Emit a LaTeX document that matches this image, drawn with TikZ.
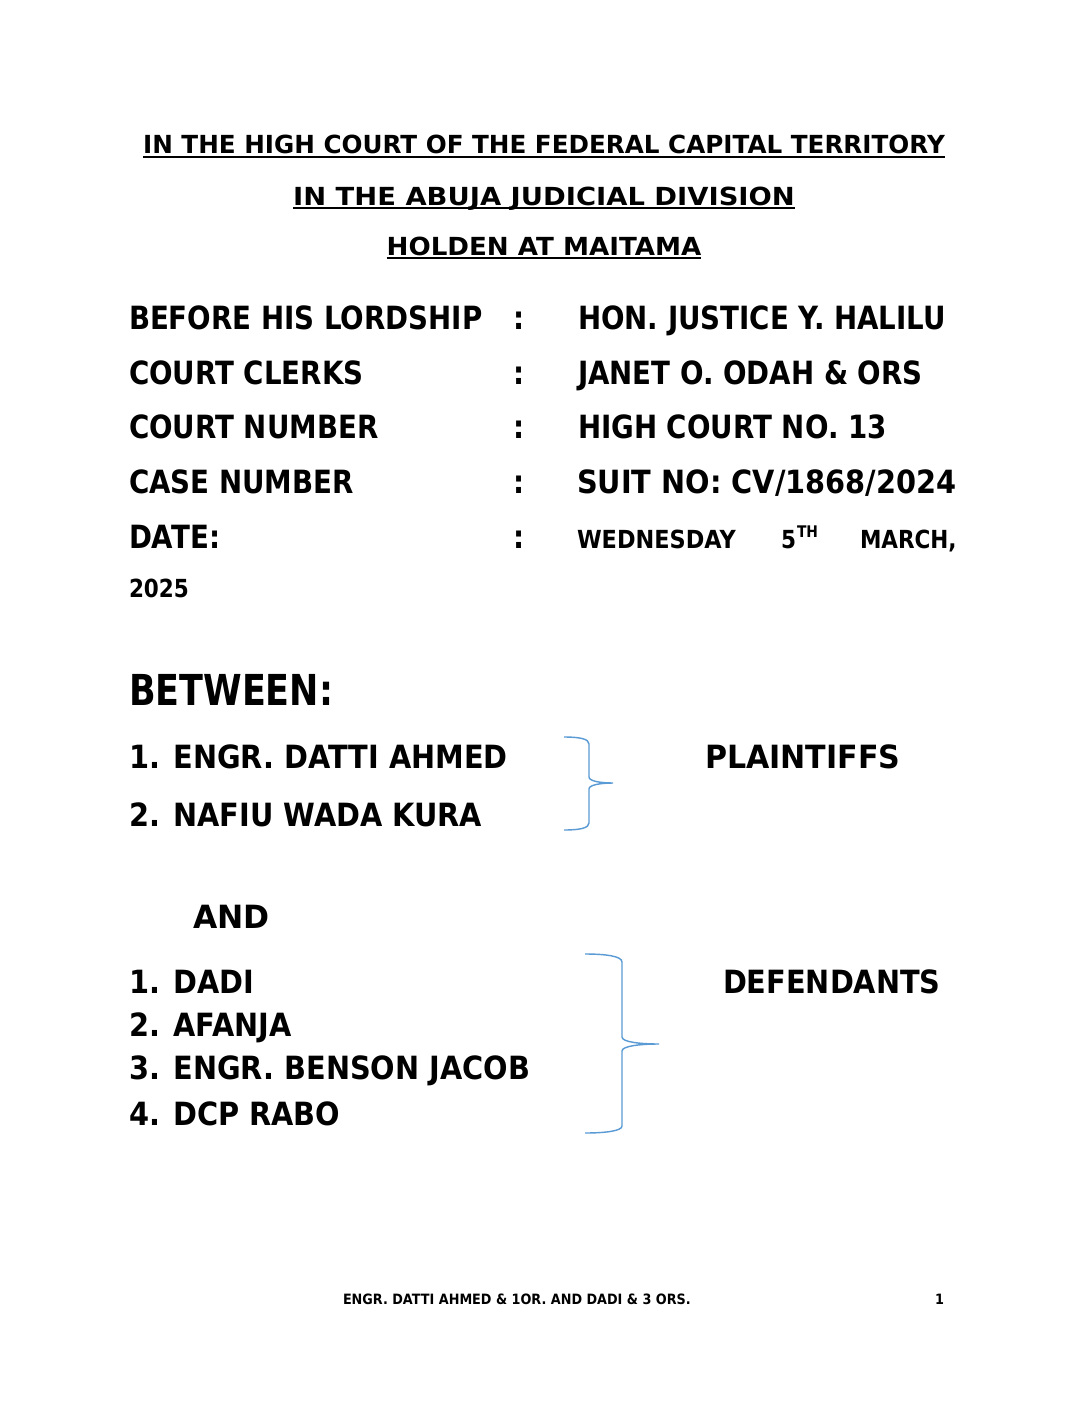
\documentclass[tikz,border=0pt]{standalone}
\usepackage{fontspec}
\newfontfamily\tb[FakeStretch=0.865]{DejaVu Sans Bold}
\newfontfamily\tbT[FakeStretch=0.99]{DejaVu Sans Bold}
\newfontfamily\tbU[FakeStretch=1.10]{DejaVu Sans Bold}
\newfontfamily\tbV[FakeStretch=1.05]{DejaVu Sans Bold}
\newfontfamily\tbP[FakeStretch=0.90]{DejaVu Sans Bold}
\newfontfamily\tbQ[FakeStretch=0.94]{DejaVu Sans Bold}
\newfontfamily\tbR[FakeStretch=0.98]{DejaVu Sans Bold}
\newfontfamily\tbB[FakeStretch=0.82]{DejaVu Sans Bold}
\definecolor{bracecol}{HTML}{5B9BD5}
\begin{document}
\begin{tikzpicture}[x=0.5625pt,y=-0.5625pt,
  txt/.style={inner sep=0pt,outer sep=0pt,anchor=base west},
  ttl/.style={inner sep=0pt,outer sep=0pt,anchor=base,font={\tbT\fontsize{14}{16}\selectfont}},
  body/.style={txt,font={\tb\fontsize{18}{21}\selectfont}},
  party/.style={txt,font={\tbP\fontsize{18}{21}\selectfont}},
  small/.style={txt,font={\tb\fontsize{14}{16}\selectfont}},
  sup/.style={txt,font={\tb\fontsize{9}{10}\selectfont}},
  big/.style={txt,font={\tbB\fontsize{24}{28}\selectfont}},
  foot/.style={txt,font={\tbP\fontsize{8}{9}\selectfont}},
  uline/.style={line width=1.1pt},
  bracestyle/.style={draw=bracecol,line width=0.8pt}]
\useasboundingbox[fill=white] (0,0) rectangle (1088,1408);
% titles
\node[ttl] (t1) at (544,154) {IN THE HIGH COURT OF THE FEDERAL CAPITAL TERRITORY};
\node[ttl,font={\tbU\fontsize{14}{16}\selectfont}] (t2) at (544,205) {IN THE ABUJA JUDICIAL DIVISION};
\node[ttl,font={\tbV\fontsize{14}{16}\selectfont}] (t3) at (544,255) {HOLDEN AT MAITAMA};
\foreach \n in {t1,t2,t3}
  \draw[uline] ([yshift=-1.8pt]\n.base west) -- ([yshift=-1.8pt]\n.base east);
% table
\node[body] (l1) at (129,329) {BEFORE HIS LORDSHIP};
\node[body] (l2) at (129,384) {COURT CLERKS};
\node[body] (l3) at (129,438) {COURT NUMBER};
\node[body] (l4) at (129,493) {CASE NUMBER};
\node[body] (l5) at (129,548) {DATE:};
\node[body] (c1) at (513,329) {:};
\node[body] (c2) at (513,384) {:};
\node[body] (c3) at (513,438) {:};
\node[body] (c4) at (513,493) {:};
\node[body] (c5) at (513,548) {:};
\node[body] (r1) at (578,329) {HON. JUSTICE Y. HALILU};
\node[body] (r2) at (578,384) {JANET O. ODAH \& ORS};
\node[body] (r3) at (578,438) {HIGH COURT NO. 13};
\node[body,font={\tbP\fontsize{18}{21}\selectfont}] (r4) at (577,493) {SUIT NO: CV/1868/2024};
\node[small,font={\tbP\fontsize{14}{16}\selectfont}] (d1) at (577,548) {WEDNESDAY};
\node[small] (d2) at (781,548) {5};
\node[sup] (d3) at (797,537) {TH};
\node[small] (d4) at (860,548) {MARCH,};
\node[small] (d5) at (129,597) {2025};
% parties
\node[big] (bt) at (129,705) {BETWEEN:};
\node[party] (p1) at (129,768) {1. ENGR. DATTI AHMED};
\node[party] (p2) at (129,826) {2. NAFIU WADA KURA};
\node[party,font={\tbQ\fontsize{18}{21}\selectfont}] (pl) at (705,768) {PLAINTIFFS};
\node[party,font={\tbR\fontsize{18}{21}\selectfont}] (and) at (193,928) {AND};
\node[party] (q1) at (129,993) {1. DADI};
\node[party] (q2) at (129,1036) {2. AFANJA};
\node[party] (q3) at (129,1079) {3. ENGR. BENSON JACOB};
\node[party] (q4) at (129,1125) {4. DCP RABO};
\node[party] (df) at (723,993) {DEFENDANTS};
% braces
\draw[bracestyle] (564,737) .. controls (580,737) and (589,739) .. (589,744) -- (589,777)
  .. controls (589,781) and (600,783) .. (613,783)
  .. controls (600,783) and (589,785) .. (589,789) -- (589,823)
  .. controls (589,828) and (580,830) .. (564,830);
\draw[bracestyle] (585,954) .. controls (605,954) and (622,956) .. (622,962) -- (622,1037)
  .. controls (622,1042) and (640,1044) .. (659,1044)
  .. controls (640,1044) and (622,1046) .. (622,1051) -- (622,1126)
  .. controls (622,1131) and (605,1133) .. (585,1133);
% footer
\node[foot] (f1) at (343,1304) {ENGR. DATTI AHMED \& 1OR. AND DADI \& 3 ORS.};
\node[foot,anchor=base east] (f2) at (944,1304) {1};
\end{tikzpicture}
\end{document}
